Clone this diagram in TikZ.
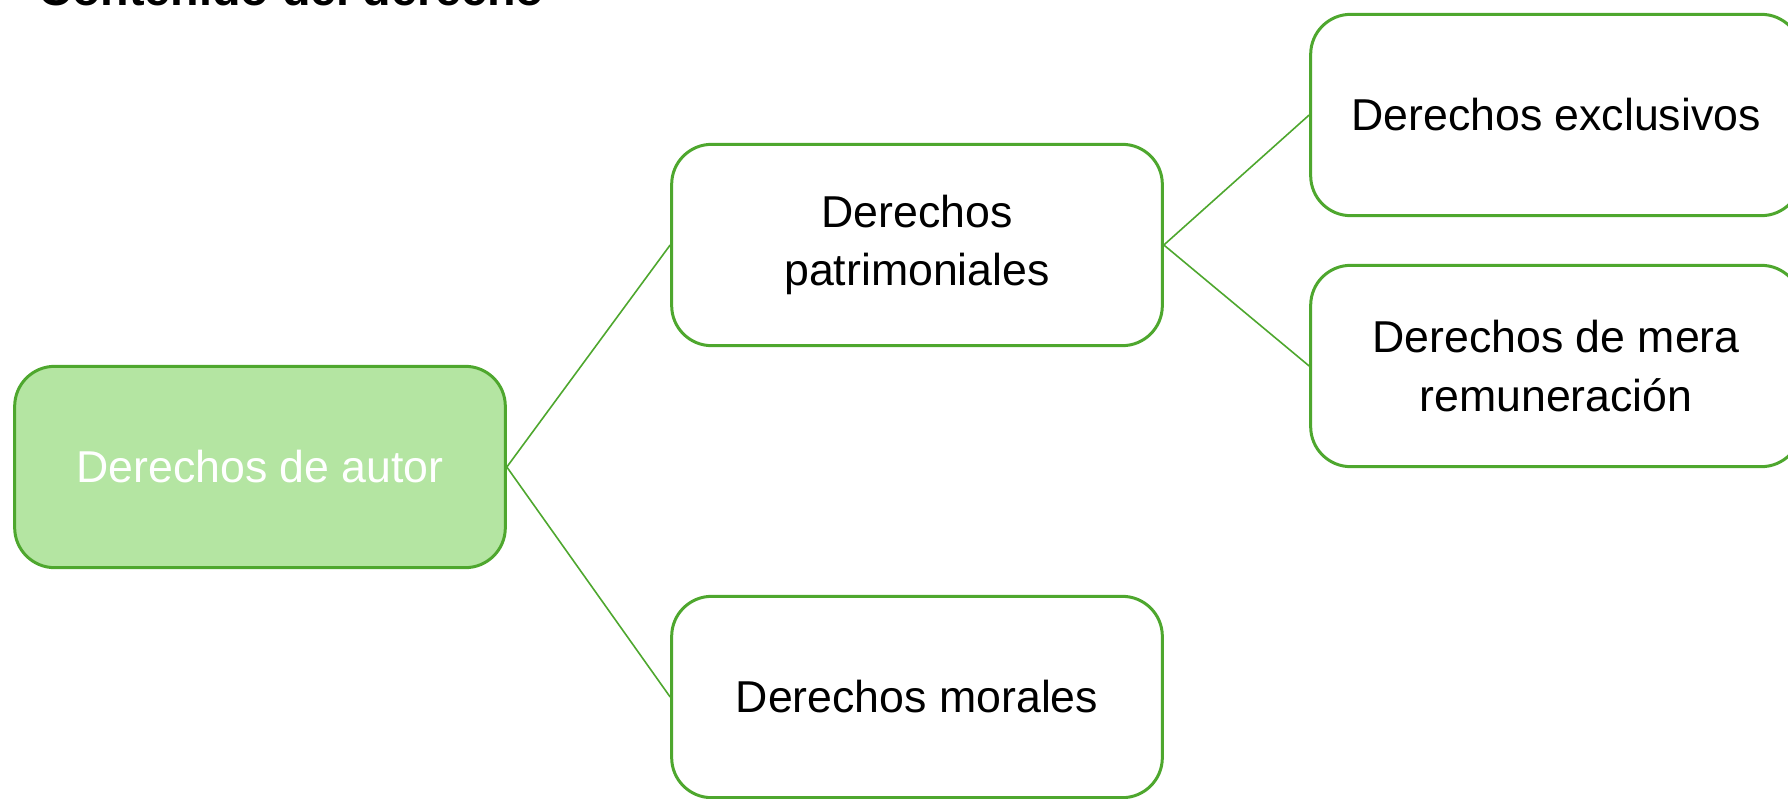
\documentclass[tikz,border=0pt]{standalone}
\usepackage{fontspec}
\setmainfont{Liberation Sans}
\definecolor{leafgreen}{HTML}{4EA72E}
\definecolor{leaffill}{HTML}{B4E5A2}
\tikzset{
  box/.style={draw=leafgreen, line width=2.25pt, rounded corners=30pt, fill=white,
    minimum width=368pt, minimum height=151pt, align=center,
    font=\fontsize{33.5}{44}\selectfont},
  rootbox/.style={box, fill=leaffill, text=white},
  link/.style={leafgreen, line width=1.2pt}
}
\begin{document}
\begin{tikzpicture}[x=0.75pt, y=-0.75pt]
\clip (0,0) rectangle (1788,799);
\useasboundingbox (0,0) rectangle (1788,799);
\node[anchor=base west, font=\fontsize{35}{42}\selectfont\bfseries] (title) at (34,6) {Contenido del derecho};
\node[rootbox] (autor) at (260,467) {Derechos de autor};
\node[box] (patr) at (917,245) {Derechos\\patrimoniales};
\node[box] (moral) at (917,697) {Derechos morales};
\node[box] (excl) at (1556,115) {Derechos exclusivos};
\node[box] (mera) at (1556,366) {Derechos de mera\\remuneración};
\draw[link] (autor.east) -- (patr.west);
\draw[link] (autor.east) -- (moral.west);
\draw[link] (patr.east) -- (excl.west);
\draw[link] (patr.east) -- (mera.west);
\end{tikzpicture}
\end{document}
